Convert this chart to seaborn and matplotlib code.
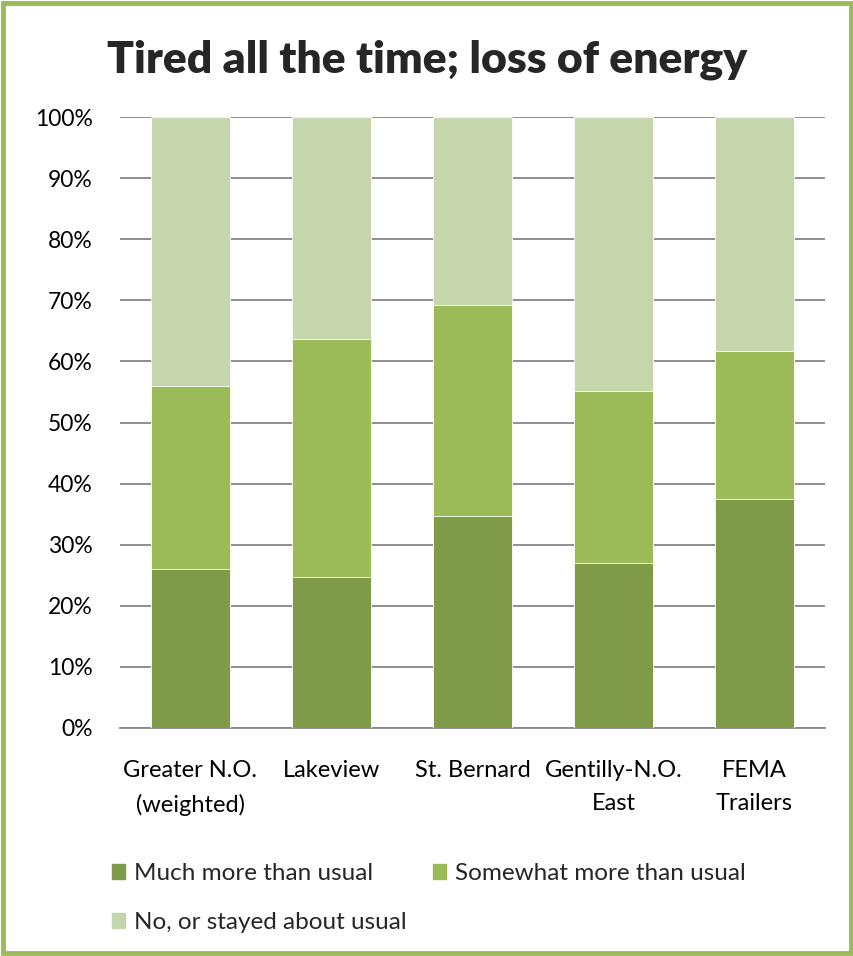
import pandas as pd
import matplotlib.pyplot as plt
import seaborn as sns
from matplotlib.patches import Patch, Rectangle
from matplotlib.ticker import PercentFormatter

# values (percent of respondents)
areas = ["Greater N.O.\n(weighted)", "Lakeview", "St. Bernard", "Gentilly-N.O.\nEast", "FEMA\nTrailers"]
much_more = [26.0, 24.7, 34.7, 27.0, 37.5]
somewhat_more = [29.9, 38.9, 34.5, 28.2, 24.2]
no_change = [44.1, 36.4, 30.8, 44.8, 38.3]

series_names = ["Much more than usual", "Somewhat more than usual", "No, or stayed about usual"]
colors = ["#7f9a48", "#9bbb59", "#c6d6ac"]

df = pd.DataFrame({"area": areas, "much": much_more, "somewhat": somewhat_more, "no": no_change})
df["cum_somewhat"] = df["much"] + df["somewhat"]
df["cum_no"] = df["cum_somewhat"] + df["no"]

sns.set_style("white")
plt.rcParams["font.family"] = ["Lato", "DejaVu Sans"]

fig = plt.figure(figsize=(8.54, 9.56), dpi=100)
ax = fig.add_axes([120 / 854, 1 - 728 / 956, 705 / 854, 611 / 956])

# draw stacked bars from the top layer down so each covers the one beneath
for col, c in zip(["cum_no", "cum_somewhat", "much"], colors[::-1]):
    sns.barplot(data=df, x="area", y=col, color=c, width=0.567, saturation=1,
                edgecolor="white", linewidth=0.6, ax=ax, zorder=3)

ax.set_ylim(0, 100)
ax.set_xlim(-0.5, 4.5)
ax.set_yticks(range(0, 101, 10))
ax.yaxis.set_major_formatter(PercentFormatter(decimals=0))
ax.grid(axis="y", color="#868686", linewidth=1.3, zorder=0)
ax.set_axisbelow(True)
for s in ["top", "right", "left"]:
    ax.spines[s].set_visible(False)
ax.spines["bottom"].set_color("#868686")
ax.spines["bottom"].set_linewidth(1.3)
ax.tick_params(axis="both", length=0, colors="black")
ax.tick_params(axis="y", pad=19.5, labelsize=16.5)
ax.tick_params(axis="x", pad=23, labelsize=17)
for lbl in ax.get_xticklabels():
    lbl.set_linespacing(1.7)
ax.set_xlabel("")
ax.set_ylabel("")

fig.text(0.5, 1 - 60 / 956, "Tired all the time; loss of energy", ha="center", va="center",
         fontsize=32, fontweight="heavy")

handles = [Patch(color=c) for c in colors]
order = [0, 2, 1]
fig.legend([handles[i] for i in order], [series_names[i] for i in order],
           ncol=2, loc="upper left", bbox_to_anchor=(90 / 854, 1 - 841 / 956),
           frameon=False, fontsize=17.5, handlelength=0.55, handleheight=0.55,
           handletextpad=0.35, columnspacing=1.1, labelspacing=1.15)

# green frame around the whole chart
fig.patches.append(Rectangle((3 / 854, 3 / 956), 848 / 854, 950 / 956, transform=fig.transFigure,
                             fill=False, edgecolor="#9bbb59", linewidth=3.5))

plt.savefig("out.png", dpi=100)
